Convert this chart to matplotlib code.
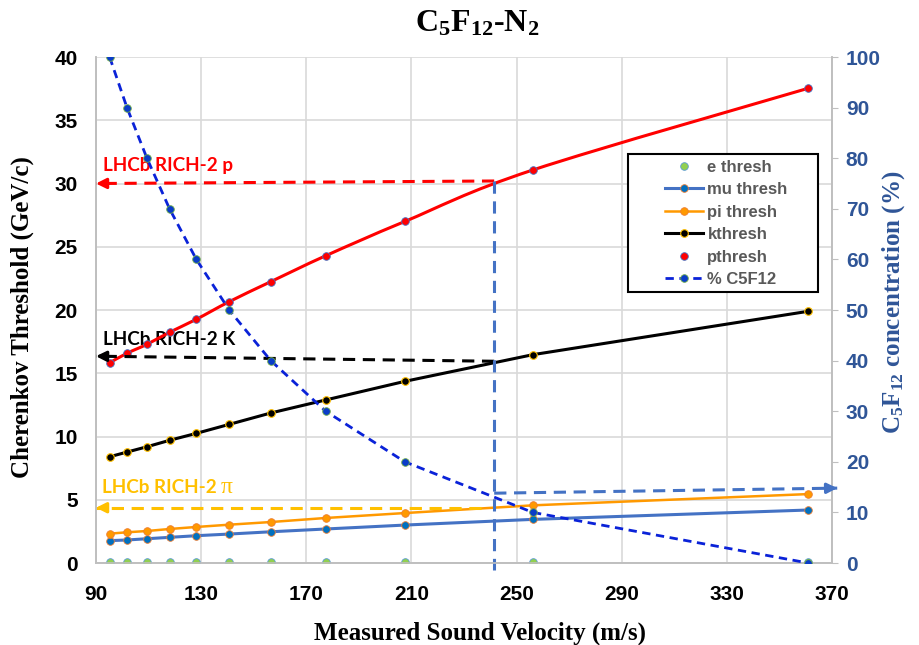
import numpy as np
import matplotlib
matplotlib.use('Agg')
import matplotlib.pyplot as plt
from matplotlib.path import Path
from matplotlib.patches import PathPatch, Rectangle

# data
velocity = [95.2, 101.8, 109.4, 118.0, 128.2, 140.7, 156.5, 177.4, 207.5, 256.2, 361.0]
conc_c5f12 = [100, 90, 80, 70, 60, 50, 40, 30, 20, 10, 0]
e_thresh = [0.1, 0.1, 0.1, 0.1, 0.1, 0.1, 0.1, 0.1, 0.1, 0.1, 0.1]
mu_thresh = [1.77, 1.82, 1.92, 2.03, 2.16, 2.29, 2.47, 2.69, 3.00, 3.45, 4.19]
pi_thresh = [2.32, 2.43, 2.53, 2.69, 2.85, 3.03, 3.24, 3.56, 3.95, 4.56, 5.45]
k_thresh = [8.40, 8.77, 9.19, 9.70, 10.25, 10.96, 11.86, 12.89, 14.36, 16.47, 19.90]
p_thresh = [15.83, 16.58, 17.29, 18.24, 19.27, 20.66, 22.24, 24.29, 27.00, 31.07, 37.53]

# LHCb RICH-2 reference lines
v_cut = 241.5
p_level = (30.0, 30.2)
k_level = (16.35, 15.95)
pi_level = 4.37
conc_level = (13.8, 14.8)

plt.rcParams['mathtext.fontset'] = 'custom'
plt.rcParams['mathtext.rm'] = 'Liberation Serif:bold'
plt.rcParams['mathtext.bf'] = 'Liberation Serif:bold'
plt.rcParams['mathtext.it'] = 'Liberation Serif'

fig = plt.figure(figsize=(9.2, 6.45), dpi=100)
ax = fig.add_axes([0.1043, 0.1271, 0.8, 0.7845])
ax2 = ax.twinx()

grid_c = '#D9D9D9'
spine_c = '#BFBFBF'

ax.set_xlim(90, 370)
ax.set_ylim(0, 40)
ax2.set_ylim(0, 100)
ax.set_xticks(np.arange(90, 371, 40))
ax.set_yticks(np.arange(0, 41, 5))
ax2.set_yticks(np.arange(0, 101, 10))
ax.grid(True, color=grid_c, lw=1.2)
ax.set_axisbelow(True)

for a in (ax, ax2):
    a.spines['top'].set_visible(False)
    for s in ('left', 'bottom', 'right'):
        a.spines[s].set_color(spine_c)
        a.spines[s].set_linewidth(1.2)

tick_font = dict(family='Liberation Sans', weight='bold', size=15)
ax.tick_params(axis='both', length=0)
ax.tick_params(axis='y', pad=13)
ax.tick_params(axis='x', pad=16)
ax2.tick_params(axis='y', length=4, color=spine_c, direction='out', pad=6,
                labelcolor='#2F5597')
for lab in ax.get_xticklabels() + ax.get_yticklabels() + ax2.get_yticklabels():
    lab.set_fontproperties(tick_font)

ms = 5.5
# series
h_e, = ax.plot(velocity, e_thresh, ls='none', marker='o', ms=ms,
               mfc='#92D050', mec='#5B9BD5', mew=0.6, label='e thresh', zorder=4)
h_mu, = ax.plot(velocity, mu_thresh, color='#4472C4', lw=2.2, marker='o', ms=ms,
                mfc='#0070C0', mec='#ED7D31', mew=0.6, label='mu thresh', zorder=4)
h_pi, = ax.plot(velocity, pi_thresh, color='#FF9900', lw=1.8, marker='o', ms=ms,
                mfc='#FF9900', mec='#ED7D31', mew=0.6, label='pi thresh', zorder=4)
h_k, = ax.plot(velocity, k_thresh, color='black', lw=2.2, marker='o', ms=ms,
               mfc='black', mec='#FFC000', mew=0.8, label='kthresh', zorder=4)

# smoothed line for p threshold (bezier through the points, like a spreadsheet smooth line)
pts = np.column_stack([velocity, p_thresh])
ext = np.vstack([pts[0], pts, pts[-1]])
verts = [tuple(pts[0])]
codes = [Path.MOVETO]
for i in range(len(pts) - 1):
    p0, p1, p2, p3 = ext[i], ext[i + 1], ext[i + 2], ext[i + 3]
    c1 = p1 + (p2 - p0) / 6.0
    c2 = p2 - (p3 - p1) / 6.0
    verts += [tuple(c1), tuple(c2), tuple(p2)]
    codes += [Path.CURVE4] * 3
ax.add_patch(PathPatch(Path(verts, codes), fc='none', ec='#FF0000', lw=2.2, zorder=4))
h_p, = ax.plot(velocity, p_thresh, ls='none', marker='o', ms=ms,
               mfc='#FF0000', mec='#4472C4', mew=0.6, label='pthresh', zorder=5)

h_c, = ax2.plot(velocity, conc_c5f12, color='#0A22D8', lw=2.0, ls=(0, (3, 2)),
                marker='o', ms=ms, mfc='#0A3CC8', mec='#70AD47', mew=0.6,
                label='% C5F12', zorder=4)

# reference arrows
def dashed_arrow(a, x0, y0, x1, y1, color, lw=2.2):
    a.plot([x0, x1], [y0, y1], color=color, lw=lw, ls=(0, (4, 2.5)),
           clip_on=False, zorder=6)
    a.annotate('', xy=(x1, y1), xytext=(x1 + (x0 - x1) * 0.02, y1 + (y0 - y1) * 0.02),
               arrowprops=dict(arrowstyle='-|>,head_length=0.6,head_width=0.3',
                               color=color, lw=lw, shrinkA=0, shrinkB=0),
               annotation_clip=False, zorder=6)

dashed_arrow(ax, v_cut, p_level[1], 90, p_level[0], '#FF0000')
dashed_arrow(ax, v_cut, k_level[1], 90, k_level[0], 'black')
dashed_arrow(ax, v_cut - 5, pi_level, 90, pi_level, '#FFC000')
dashed_arrow(ax2, v_cut, conc_level[0], 372, conc_level[1], '#4472C4')
ax.plot([v_cut, v_cut], [p_level[1], -0.55], color='#4472C4', lw=2.2,
        ls=(0, (4, 2.5)), clip_on=False, zorder=6)

lab_font = dict(family='Lato', weight='bold', size=13.6)
ax.text(92.7, 31.0, 'LHCb RICH-2 p', color='#FF0000', va='baseline', **lab_font)
ax.text(92.7, 17.25, 'LHCb RICH-2 K', color='black', va='baseline', **lab_font)
ax.text(92.2, 5.55, 'LHCb RICH-2', color='#FFC000', va='baseline', **lab_font)
ax.text(137.6, 5.55, '\u03c0', color='#FFC000', va='baseline', ha='left',
        family='Liberation Serif', size=17)

# titles and axis labels
serif = dict(family='Liberation Serif', weight='bold')
fig.text(0.519, 0.963, r'$\mathbf{C_5F_{12}}$-$\mathbf{N_2}$', ha='center', va='center',
         size=23, **serif)
fig.text(0.522, 0.018, 'Measured Sound Velocity (m/s)', ha='center', va='center',
         size=18, **serif)
fig.text(0.024, 0.508, 'Cherenkov Threshold (GeV/c)', ha='center', va='center',
         rotation=90, size=18, **serif)
fig.text(0.971, 0.532, r'C$_5$F$_{12}$ concentration (%)', ha='center', va='center',
         rotation=90, size=18, color='#2F5597', **serif)

# legend with a wide frame drawn separately
W, H = 920.0, 645.0
frame = Rectangle((628 / W, 1 - 292 / H), 190 / W, 138 / H, transform=fig.transFigure,
                  fc='white', ec='black', lw=1.5, zorder=4.9, clip_on=False)
ax2.add_patch(frame)
leg = ax2.legend(handles=[h_e, h_mu, h_pi, h_k, h_p, h_c], loc='upper left',
                 bbox_to_anchor=(0.773, 0.797), frameon=False, borderpad=0,
                 borderaxespad=0, handlelength=2.3, labelspacing=0.45,
                 handletextpad=0.25,
                 prop=dict(family='Liberation Sans', weight='bold', size=12))
leg.set_zorder(5)
for t in leg.get_texts():
    t.set_color('#595959')

fig.savefig('out.png', dpi=100)
